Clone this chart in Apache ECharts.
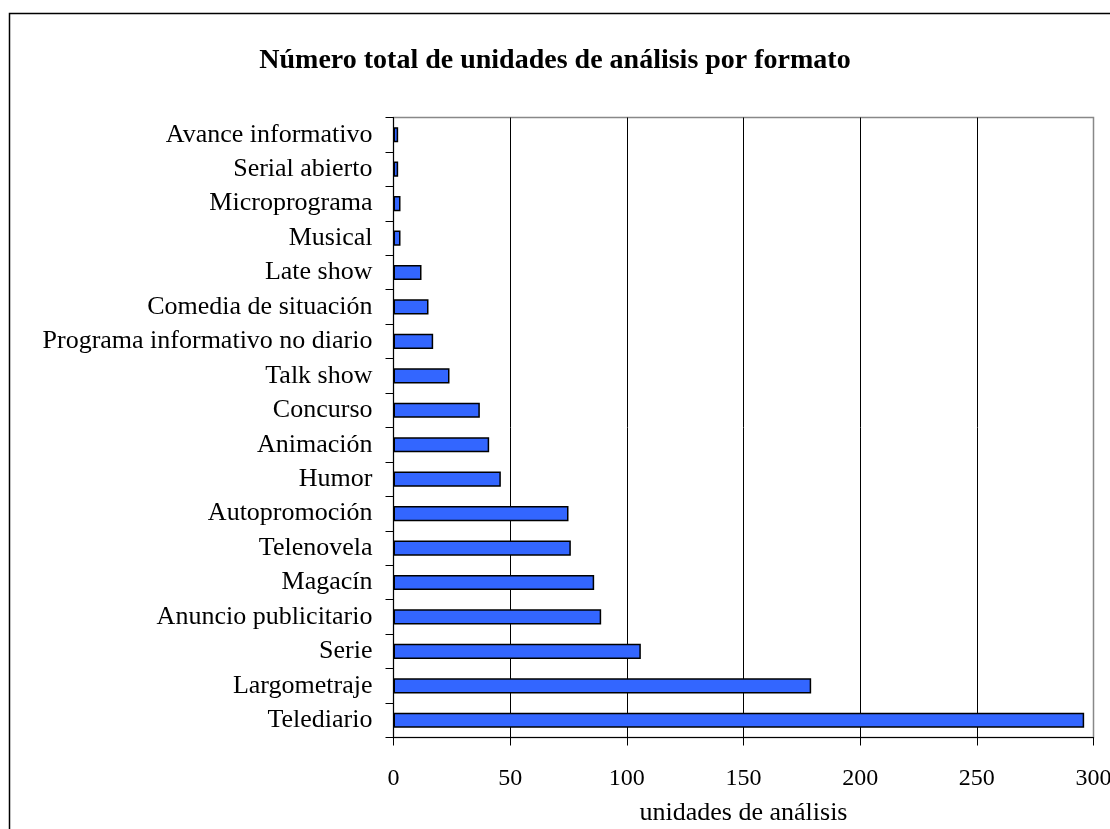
<!DOCTYPE html>
<html>
<head>
<meta charset="utf-8">
<script src="https://cdn.jsdelivr.net/npm/echarts@6/dist/echarts.min.js"></script>
<style>
  html, body { margin: 0; padding: 0; background: #fff; }
  #chart { width: 1110px; height: 829px; }
</style>
</head>
<body>
<div id="chart"></div>
<script>
// Formatos, listados de arriba a abajo
const categories = [
  'Avance informativo', 'Serial abierto', 'Microprograma', 'Musical',
  'Late show', 'Comedia de situación', 'Programa informativo no diario',
  'Talk show', 'Concurso', 'Animación', 'Humor', 'Autopromoción',
  'Telenovela', 'Magacín', 'Anuncio publicitario', 'Serie',
  'Largometraje', 'Telediario'
];
// Unidades de análisis por formato
const unidades = [2, 2, 3, 3, 12, 15, 17, 24, 37, 41, 46, 75, 76, 86, 89, 106, 179, 296];
const xTicks = [0, 50, 100, 150, 200, 250, 300];

const titleText = 'Número total de unidades de análisis por formato';
const xAxisName = 'unidades de análisis';

const serif = '"Liberation Serif", "DejaVu Serif", serif';

const chart = echarts.init(document.getElementById('chart'), null, { renderer: 'canvas' });

chart.setOption({
  animation: false,
  backgroundColor: '#ffffff',
  title: {
    text: titleText,
    left: 'center',
    top: 42,
    textStyle: { fontFamily: serif, fontWeight: 'bold', fontSize: 28, color: '#000' }
  },
  graphic: [{
    type: 'rect',
    shape: { x: 9.5, y: 13.5, width: 1200, height: 900 },
    style: { fill: 'none', stroke: '#000', lineWidth: 1.5 },
    silent: true,
    z: 100
  }],
  grid: {
    left: 393.5,
    right: 16.5,
    top: 117.5,
    bottom: 91.5,
    outerBoundsMode: 'none',
    containLabel: false,
    show: true,
    borderColor: '#888',
    borderWidth: 1.5,
    backgroundColor: 'transparent'
  },
  xAxis: {
    type: 'value',
    min: xTicks[0],
    max: xTicks[xTicks.length - 1],
    interval: xTicks[1] - xTicks[0],
    name: xAxisName,
    nameLocation: 'middle',
    nameGap: 63,
    nameTextStyle: { fontFamily: serif, fontSize: 26, color: '#000' },
    axisLine: { show: true, lineStyle: { color: '#000', width: 1 } },
    axisTick: { show: true, length: 8, inside: false, lineStyle: { color: '#000' } },
    axisLabel: { fontFamily: serif, fontSize: 24, color: '#000', margin: 29 },
    splitLine: { show: true, showMinLine: false, showMaxLine: false, lineStyle: { color: '#000', width: 1 } }
  },
  yAxis: {
    type: 'category',
    data: categories,
    inverse: true,
    axisLine: { show: true, lineStyle: { color: '#000', width: 1 } },
    axisTick: { show: true, length: 8, inside: false, alignWithLabel: false, lineStyle: { color: '#000' } },
    axisLabel: { fontFamily: serif, fontSize: 26, color: '#000', margin: 21 },
    splitLine: { show: false }
  },
  series: [{
    type: 'bar',
    data: unidades,
    barCategoryGap: '56%',
    itemStyle: { color: '#3366ff', borderColor: '#000', borderWidth: 1.5 },
    z: 3
  }]
});
</script>
</body>
</html>
